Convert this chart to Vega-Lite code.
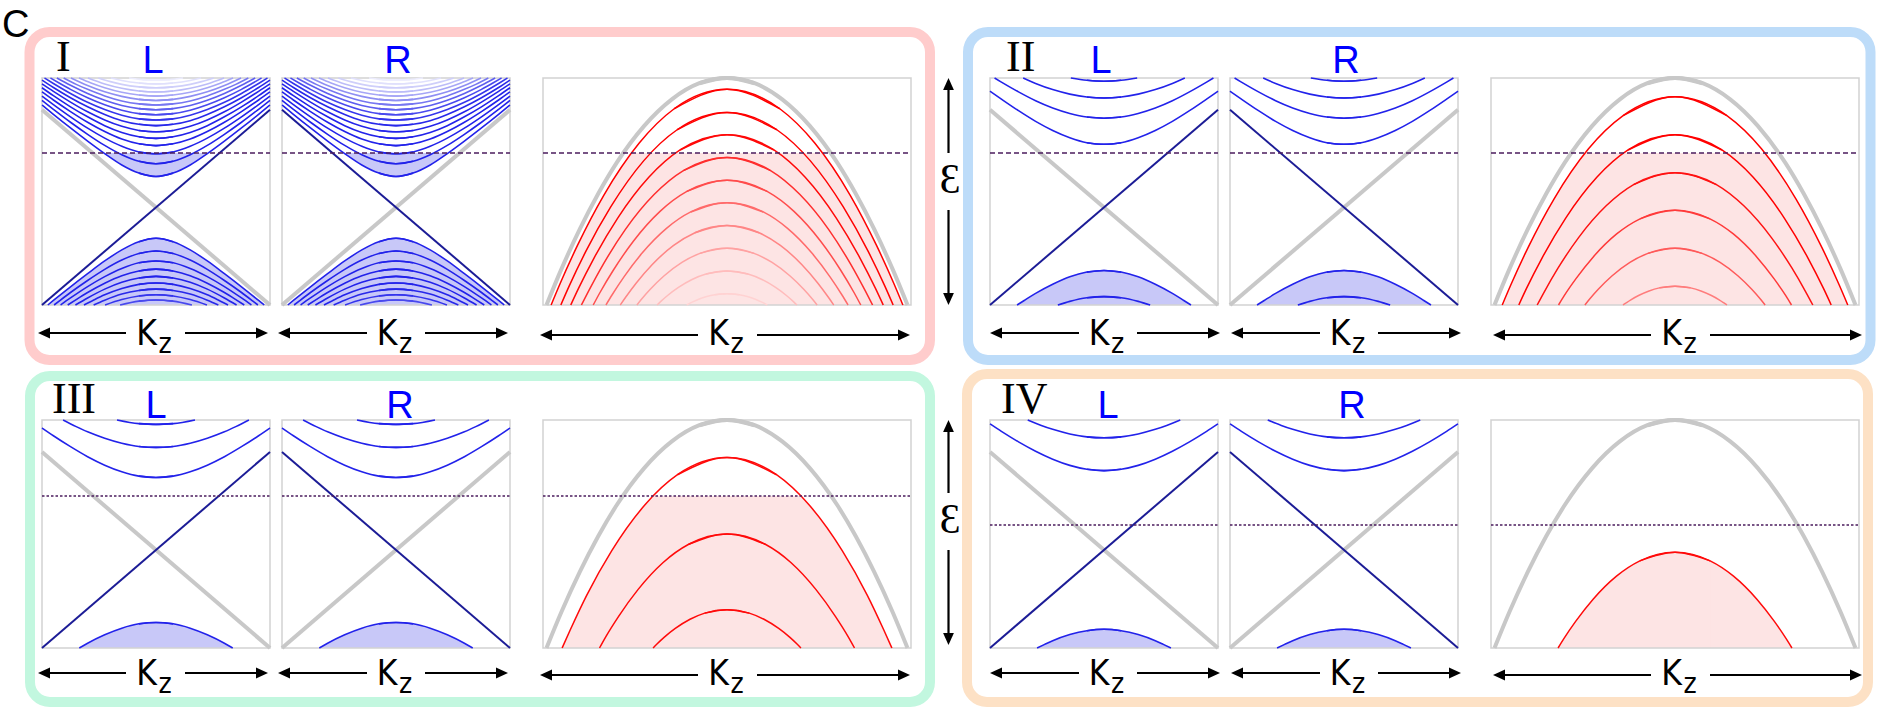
{
"$schema":"https://vega.github.io/schema/vega-lite/v6.json",
"width":1881,"height":715,"autosize":{"type":"none"},"padding":0,"background":"white",
"config":{"axis":{"disable":true},"legend":{"disable":true},"view":{"stroke":null}},
"resolve":{"scale":{"x":"independent","y":"independent","color":"independent","shape":"independent","strokeDash":"independent"}},
"datasets":{
"box":[{"q":"I","x":29.5,"x2":930,"y":32,"y2":360},{"q":"II","x":968,"x2":1870.5,"y":32,"y2":360},{"q":"III","x":30,"x2":930,"y":376,"y2":702},{"q":"IV","x":967,"x2":1868,"y":374,"y2":702}],
"fr":[{"x":42,"x2":270,"y":78,"y2":305},{"x":282,"x2":510,"y":78,"y2":305},{"x":543,"x2":911,"y":78,"y2":305},{"x":990,"x2":1218,"y":78,"y2":305},{"x":1230,"x2":1458,"y":78,"y2":305},{"x":1491,"x2":1859,"y":78,"y2":305},
{"x":42,"x2":270,"y":420,"y2":648},{"x":282,"x2":510,"y":420,"y2":648},{"x":543,"x2":911,"y":420,"y2":648},{"x":990,"x2":1218,"y":420,"y2":648},{"x":1230,"x2":1458,"y":420,"y2":648},{"x":1491,"x2":1859,"y":420,"y2":648}],
"ef":[{"x":42,"x2":270,"y":153,"r":"t"},{"x":282,"x2":510,"y":153,"r":"t"},{"x":543,"x2":911,"y":153,"r":"t"},{"x":990,"x2":1218,"y":153,"r":"t"},{"x":1230,"x2":1458,"y":153,"r":"t"},{"x":1491,"x2":1859,"y":153,"r":"t"},
{"x":42,"x2":270,"y":496,"r":"b"},{"x":282,"x2":510,"y":496,"r":"b"},{"x":543,"x2":911,"y":496,"r":"b"},{"x":990,"x2":1218,"y":525,"r":"b"},{"x":1230,"x2":1458,"y":525,"r":"b"},{"x":1491,"x2":1859,"y":525,"r":"b"}],
"sh":[{"x":44,"x2":126,"y":333,"y2":333},{"x":185,"x2":262,"y":333,"y2":333},{"x":284,"x2":367,"y":333,"y2":333},{"x":425,"x2":502,"y":333,"y2":333},{"x":546,"x2":698,"y":335,"y2":335},{"x":757,"x2":904,"y":335,"y2":335},
{"x":996,"x2":1079,"y":333,"y2":333},{"x":1137,"x2":1214,"y":333,"y2":333},{"x":1237,"x2":1320,"y":333,"y2":333},{"x":1378,"x2":1455,"y":333,"y2":333},{"x":1499,"x2":1651,"y":335,"y2":335},{"x":1710,"x2":1856,"y":335,"y2":335},
{"x":44,"x2":126,"y":673,"y2":673},{"x":185,"x2":262,"y":673,"y2":673},{"x":284,"x2":367,"y":673,"y2":673},{"x":425,"x2":502,"y":673,"y2":673},{"x":546,"x2":698,"y":675,"y2":675},{"x":757,"x2":904,"y":675,"y2":675},
{"x":996,"x2":1079,"y":673,"y2":673},{"x":1137,"x2":1214,"y":673,"y2":673},{"x":1237,"x2":1320,"y":673,"y2":673},{"x":1378,"x2":1455,"y":673,"y2":673},{"x":1499,"x2":1651,"y":675,"y2":675},{"x":1710,"x2":1856,"y":675,"y2":675},
{"x":948.5,"x2":948.5,"y":84,"y2":153},{"x":948.5,"x2":948.5,"y":210,"y2":299},{"x":948.5,"x2":948.5,"y":426,"y2":493},{"x":948.5,"x2":948.5,"y":550,"y2":639}],
"hd":[{"x":44,"y":333,"d":"l"},{"x":284,"y":333,"d":"l"},{"x":546,"y":335,"d":"l"},{"x":996,"y":333,"d":"l"},{"x":1237,"y":333,"d":"l"},{"x":1499,"y":335,"d":"l"},
{"x":44,"y":673,"d":"l"},{"x":284,"y":673,"d":"l"},{"x":546,"y":675,"d":"l"},{"x":996,"y":673,"d":"l"},{"x":1237,"y":673,"d":"l"},{"x":1499,"y":675,"d":"l"},
{"x":262,"y":333,"d":"r"},{"x":502,"y":333,"d":"r"},{"x":904,"y":335,"d":"r"},{"x":1214,"y":333,"d":"r"},{"x":1455,"y":333,"d":"r"},{"x":1856,"y":335,"d":"r"},
{"x":262,"y":673,"d":"r"},{"x":502,"y":673,"d":"r"},{"x":904,"y":675,"d":"r"},{"x":1214,"y":673,"d":"r"},{"x":1455,"y":673,"d":"r"},{"x":1856,"y":675,"d":"r"},
{"x":948.5,"y":84,"d":"u"},{"x":948.5,"y":426,"d":"u"},{"x":948.5,"y":299,"d":"d"},{"x":948.5,"y":639,"d":"d"}],
"tx":[{"g":"c","t":"C","x":2,"y":37},
{"g":"num","t":"I","x":56,"y":71},{"g":"num","t":"II","x":1006,"y":71},{"g":"num","t":"III","x":52,"y":413},{"g":"num","t":"IV","x":1001,"y":413},
{"g":"lr","t":"L","x":153,"y":73},{"g":"lr","t":"R","x":398,"y":73},{"g":"lr","t":"L","x":1101,"y":73},{"g":"lr","t":"R","x":1346,"y":73},
{"g":"lr","t":"L","x":156,"y":418},{"g":"lr","t":"R","x":400,"y":418},{"g":"lr","t":"L","x":1108,"y":418},{"g":"lr","t":"R","x":1352,"y":418},
{"g":"K","t":"K","x":157,"y":345},{"g":"K","t":"K","x":397.5,"y":345},{"g":"K","t":"K","x":729,"y":345},{"g":"K","t":"K","x":1109.5,"y":345},{"g":"K","t":"K","x":1350.5,"y":345},{"g":"K","t":"K","x":1682,"y":345},
{"g":"K","t":"K","x":157,"y":685},{"g":"K","t":"K","x":397.5,"y":685},{"g":"K","t":"K","x":729,"y":685},{"g":"K","t":"K","x":1109.5,"y":685},{"g":"K","t":"K","x":1350.5,"y":685},{"g":"K","t":"K","x":1682,"y":685},
{"g":"z","t":"z","x":158.5,"y":353},{"g":"z","t":"z","x":399,"y":353},{"g":"z","t":"z","x":730.5,"y":353},{"g":"z","t":"z","x":1111,"y":353},{"g":"z","t":"z","x":1352,"y":353},{"g":"z","t":"z","x":1683.5,"y":353},
{"g":"z","t":"z","x":158.5,"y":693},{"g":"z","t":"z","x":399,"y":693},{"g":"z","t":"z","x":730.5,"y":693},{"g":"z","t":"z","x":1111,"y":693},{"g":"z","t":"z","x":1352,"y":693},{"g":"z","t":"z","x":1683.5,"y":693},
{"g":"eps","t":"Ɛ","x":950,"y":193},{"g":"eps","t":"Ɛ","x":950,"y":533}],
"ch":[{"l":"b","k":-1,"e":0},{"l":"b","k":1,"e":0.86},{"l":"g","k":-1,"e":0.86},{"l":"g","k":1,"e":0}],
"pg":[{"k":-0.15,"e":0.977},{"k":0,"e":1},{"k":0.15,"e":0.977},{"k":0.3,"e":0.906},{"k":0.45,"e":0.789},{"k":0.6,"e":0.626},{"k":0.7,"e":0.49},{"k":0.8,"e":0.334},{"k":0.9,"e":0.158},{"k":0.981,"e":0}],
"fI":[{"k":-0.1,"e":0.573},{"k":0,"e":0.566},{"k":0.1,"e":0.573},{"k":0.2,"e":0.591},{"k":0.3,"e":0.617},{"k":0.4,"e":0.649},{"k":0.46,"e":0.67}],
"bI":[
{"b":"u","n":1,"k":-0.15,"e":0.581},{"b":"u","n":1,"k":0,"e":0.566},{"b":"u","n":1,"k":0.15,"e":0.581},{"b":"u","n":1,"k":0.3,"e":0.617},{"b":"u","n":1,"k":0.45,"e":0.667},{"b":"u","n":1,"k":0.6,"e":0.722},{"b":"u","n":1,"k":0.75,"e":0.78},{"b":"u","n":1,"k":0.9,"e":0.84},{"b":"u","n":1,"k":1,"e":0.881},
{"b":"u","n":2,"k":-0.15,"e":0.633},{"b":"u","n":2,"k":0,"e":0.622},{"b":"u","n":2,"k":0.15,"e":0.633},{"b":"u","n":2,"k":0.3,"e":0.662},{"b":"u","n":2,"k":0.45,"e":0.703},{"b":"u","n":2,"k":0.6,"e":0.752},{"b":"u","n":2,"k":0.75,"e":0.805},{"b":"u","n":2,"k":0.9,"e":0.862},{"b":"u","n":2,"k":1,"e":0.901},
{"b":"u","n":3,"k":-0.15,"e":0.674},{"b":"u","n":3,"k":0,"e":0.666},{"b":"u","n":3,"k":0.15,"e":0.674},{"b":"u","n":3,"k":0.3,"e":0.699},{"b":"u","n":3,"k":0.45,"e":0.735},{"b":"u","n":3,"k":0.6,"e":0.779},{"b":"u","n":3,"k":0.75,"e":0.829},{"b":"u","n":3,"k":0.9,"e":0.883},{"b":"u","n":3,"k":1,"e":0.92},
{"b":"u","n":4,"k":-0.15,"e":0.71},{"b":"u","n":4,"k":0,"e":0.702},{"b":"u","n":4,"k":0.15,"e":0.71},{"b":"u","n":4,"k":0.3,"e":0.731},{"b":"u","n":4,"k":0.45,"e":0.764},{"b":"u","n":4,"k":0.6,"e":0.805},{"b":"u","n":4,"k":0.75,"e":0.852},{"b":"u","n":4,"k":0.9,"e":0.903},{"b":"u","n":4,"k":1,"e":0.939},
{"b":"u","n":5,"k":-0.15,"e":0.741},{"b":"u","n":5,"k":0,"e":0.734},{"b":"u","n":5,"k":0.15,"e":0.741},{"b":"u","n":5,"k":0.3,"e":0.76},{"b":"u","n":5,"k":0.45,"e":0.79},{"b":"u","n":5,"k":0.6,"e":0.829},{"b":"u","n":5,"k":0.75,"e":0.873},{"b":"u","n":5,"k":0.9,"e":0.922},{"b":"u","n":5,"k":1,"e":0.957},
{"b":"u","n":6,"k":-0.15,"e":0.769},{"b":"u","n":6,"k":0,"e":0.763},{"b":"u","n":6,"k":0.15,"e":0.769},{"b":"u","n":6,"k":0.3,"e":0.787},{"b":"u","n":6,"k":0.45,"e":0.815},{"b":"u","n":6,"k":0.6,"e":0.851},{"b":"u","n":6,"k":0.75,"e":0.894},{"b":"u","n":6,"k":0.9,"e":0.941},{"b":"u","n":6,"k":1,"e":0.974},
{"b":"u","n":7,"k":-0.15,"e":0.796},{"b":"u","n":7,"k":0,"e":0.79},{"b":"u","n":7,"k":0.15,"e":0.796},{"b":"u","n":7,"k":0.3,"e":0.812},{"b":"u","n":7,"k":0.45,"e":0.839},{"b":"u","n":7,"k":0.6,"e":0.873},{"b":"u","n":7,"k":0.75,"e":0.913},{"b":"u","n":7,"k":0.9,"e":0.958},{"b":"u","n":7,"k":1,"e":0.991},
{"b":"u","n":8,"k":-0.15,"e":0.82},{"b":"u","n":8,"k":0,"e":0.815},{"b":"u","n":8,"k":0.15,"e":0.82},{"b":"u","n":8,"k":0.3,"e":0.836},{"b":"u","n":8,"k":0.45,"e":0.861},{"b":"u","n":8,"k":0.6,"e":0.893},{"b":"u","n":8,"k":0.75,"e":0.932},{"b":"u","n":8,"k":0.9,"e":0.976},{"b":"u","n":8,"k":0.978,"e":1},
{"b":"u","n":9,"k":-0.15,"e":0.843},{"b":"u","n":9,"k":0,"e":0.838},{"b":"u","n":9,"k":0.15,"e":0.843},{"b":"u","n":9,"k":0.3,"e":0.858},{"b":"u","n":9,"k":0.45,"e":0.882},{"b":"u","n":9,"k":0.6,"e":0.913},{"b":"u","n":9,"k":0.75,"e":0.95},{"b":"u","n":9,"k":0.85,"e":0.978},{"b":"u","n":9,"k":0.926,"e":1},
{"b":"u","n":10,"k":-0.15,"e":0.865},{"b":"u","n":10,"k":0,"e":0.86},{"b":"u","n":10,"k":0.15,"e":0.865},{"b":"u","n":10,"k":0.3,"e":0.879},{"b":"u","n":10,"k":0.45,"e":0.902},{"b":"u","n":10,"k":0.6,"e":0.932},{"b":"u","n":10,"k":0.75,"e":0.968},{"b":"u","n":10,"k":0.87,"e":1},
{"b":"u","n":11,"k":-0.15,"e":0.886},{"b":"u","n":11,"k":0,"e":0.881},{"b":"u","n":11,"k":0.15,"e":0.886},{"b":"u","n":11,"k":0.3,"e":0.899},{"b":"u","n":11,"k":0.45,"e":0.921},{"b":"u","n":11,"k":0.6,"e":0.95},{"b":"u","n":11,"k":0.7,"e":0.972},{"b":"u","n":11,"k":0.81,"e":1},
{"b":"u","n":12,"k":-0.15,"e":0.906},{"b":"u","n":12,"k":0,"e":0.901},{"b":"u","n":12,"k":0.15,"e":0.906},{"b":"u","n":12,"k":0.3,"e":0.919},{"b":"u","n":12,"k":0.45,"e":0.939},{"b":"u","n":12,"k":0.6,"e":0.967},{"b":"u","n":12,"k":0.746,"e":1},
{"b":"u","n":13,"k":-0.15,"e":0.925},{"b":"u","n":13,"k":0,"e":0.92},{"b":"u","n":13,"k":0.15,"e":0.925},{"b":"u","n":13,"k":0.3,"e":0.937},{"b":"u","n":13,"k":0.45,"e":0.957},{"b":"u","n":13,"k":0.57,"e":0.978},{"b":"u","n":13,"k":0.676,"e":1},
{"b":"u","n":14,"k":-0.15,"e":0.943},{"b":"u","n":14,"k":0,"e":0.939},{"b":"u","n":14,"k":0.15,"e":0.943},{"b":"u","n":14,"k":0.3,"e":0.955},{"b":"u","n":14,"k":0.45,"e":0.974},{"b":"u","n":14,"k":0.597,"e":1},
{"b":"u","n":15,"k":-0.15,"e":0.961},{"b":"u","n":15,"k":0,"e":0.957},{"b":"u","n":15,"k":0.15,"e":0.961},{"b":"u","n":15,"k":0.3,"e":0.972},{"b":"u","n":15,"k":0.4,"e":0.984},{"b":"u","n":15,"k":0.506,"e":1},
{"b":"u","n":16,"k":-0.15,"e":0.978},{"b":"u","n":16,"k":0,"e":0.974},{"b":"u","n":16,"k":0.15,"e":0.978},{"b":"u","n":16,"k":0.3,"e":0.989},{"b":"u","n":16,"k":0.395,"e":1},
{"b":"u","n":17,"k":-0.12,"e":0.993},{"b":"u","n":17,"k":0,"e":0.991},{"b":"u","n":17,"k":0.12,"e":0.993},{"b":"u","n":17,"k":0.237,"e":1},
{"b":"d","n":1,"k":-0.15,"e":0.279},{"b":"d","n":1,"k":0,"e":0.294},{"b":"d","n":1,"k":0.15,"e":0.279},{"b":"d","n":1,"k":0.3,"e":0.243},{"b":"d","n":1,"k":0.45,"e":0.194},{"b":"d","n":1,"k":0.6,"e":0.138},{"b":"d","n":1,"k":0.75,"e":0.08},{"b":"d","n":1,"k":0.9,"e":0.02},{"b":"d","n":1,"k":0.949,"e":0},
{"b":"d","n":2,"k":-0.15,"e":0.227},{"b":"d","n":2,"k":0,"e":0.238},{"b":"d","n":2,"k":0.15,"e":0.227},{"b":"d","n":2,"k":0.3,"e":0.198},{"b":"d","n":2,"k":0.45,"e":0.157},{"b":"d","n":2,"k":0.6,"e":0.108},{"b":"d","n":2,"k":0.75,"e":0.055},{"b":"d","n":2,"k":0.85,"e":0.017},{"b":"d","n":2,"k":0.894,"e":0},
{"b":"d","n":3,"k":-0.15,"e":0.186},{"b":"d","n":3,"k":0,"e":0.194},{"b":"d","n":3,"k":0.15,"e":0.186},{"b":"d","n":3,"k":0.3,"e":0.161},{"b":"d","n":3,"k":0.45,"e":0.125},{"b":"d","n":3,"k":0.6,"e":0.081},{"b":"d","n":3,"k":0.75,"e":0.031},{"b":"d","n":3,"k":0.837,"e":0},
{"b":"d","n":4,"k":-0.15,"e":0.15},{"b":"d","n":4,"k":0,"e":0.158},{"b":"d","n":4,"k":0.15,"e":0.15},{"b":"d","n":4,"k":0.3,"e":0.129},{"b":"d","n":4,"k":0.45,"e":0.096},{"b":"d","n":4,"k":0.6,"e":0.055},{"b":"d","n":4,"k":0.7,"e":0.024},{"b":"d","n":4,"k":0.7745,"e":0},
{"b":"d","n":5,"k":-0.15,"e":0.119},{"b":"d","n":5,"k":0,"e":0.126},{"b":"d","n":5,"k":0.15,"e":0.119},{"b":"d","n":5,"k":0.3,"e":0.1},{"b":"d","n":5,"k":0.45,"e":0.07},{"b":"d","n":5,"k":0.6,"e":0.031},{"b":"d","n":5,"k":0.707,"e":0},
{"b":"d","n":6,"k":-0.15,"e":0.091},{"b":"d","n":6,"k":0,"e":0.097},{"b":"d","n":6,"k":0.15,"e":0.091},{"b":"d","n":6,"k":0.3,"e":0.073},{"b":"d","n":6,"k":0.45,"e":0.045},{"b":"d","n":6,"k":0.55,"e":0.021},{"b":"d","n":6,"k":0.632,"e":0},
{"b":"d","n":7,"k":-0.15,"e":0.064},{"b":"d","n":7,"k":0,"e":0.07},{"b":"d","n":7,"k":0.15,"e":0.064},{"b":"d","n":7,"k":0.3,"e":0.048},{"b":"d","n":7,"k":0.45,"e":0.021},{"b":"d","n":7,"k":0.547,"e":0},
{"b":"d","n":8,"k":-0.15,"e":0.04},{"b":"d","n":8,"k":0,"e":0.045},{"b":"d","n":8,"k":0.15,"e":0.04},{"b":"d","n":8,"k":0.3,"e":0.024},{"b":"d","n":8,"k":0.447,"e":0},
{"b":"d","n":9,"k":-0.15,"e":0.017},{"b":"d","n":9,"k":0,"e":0.022},{"b":"d","n":9,"k":0.15,"e":0.017},{"b":"d","n":9,"k":0.315,"e":0}],
"bII":[
{"b":"u","n":1,"k":-0.15,"e":0.715},{"b":"u","n":1,"k":0,"e":0.708},{"b":"u","n":1,"k":0.15,"e":0.715},{"b":"u","n":1,"k":0.3,"e":0.737},{"b":"u","n":1,"k":0.45,"e":0.769},{"b":"u","n":1,"k":0.6,"e":0.809},{"b":"u","n":1,"k":0.75,"e":0.856},{"b":"u","n":1,"k":0.9,"e":0.907},{"b":"u","n":1,"k":1,"e":0.942},
{"b":"u","n":2,"k":-0.15,"e":0.828},{"b":"u","n":2,"k":0,"e":0.823},{"b":"u","n":2,"k":0.15,"e":0.828},{"b":"u","n":2,"k":0.3,"e":0.844},{"b":"u","n":2,"k":0.45,"e":0.868},{"b":"u","n":2,"k":0.6,"e":0.9},{"b":"u","n":2,"k":0.75,"e":0.939},{"b":"u","n":2,"k":0.9,"e":0.982},{"b":"u","n":2,"k":0.96,"e":1},
{"b":"u","n":3,"k":-0.15,"e":0.916},{"b":"u","n":3,"k":0,"e":0.912},{"b":"u","n":3,"k":0.15,"e":0.916},{"b":"u","n":3,"k":0.3,"e":0.929},{"b":"u","n":3,"k":0.45,"e":0.949},{"b":"u","n":3,"k":0.6,"e":0.976},{"b":"u","n":3,"k":0.709,"e":1},
{"b":"u","n":4,"k":-0.15,"e":0.99},{"b":"u","n":4,"k":0,"e":0.986},{"b":"u","n":4,"k":0.15,"e":0.99},{"b":"u","n":4,"k":0.291,"e":1},
{"b":"d","n":1,"k":-0.15,"e":0.145},{"b":"d","n":1,"k":0,"e":0.152},{"b":"d","n":1,"k":0.15,"e":0.145},{"b":"d","n":1,"k":0.3,"e":0.124},{"b":"d","n":1,"k":0.45,"e":0.091},{"b":"d","n":1,"k":0.6,"e":0.051},{"b":"d","n":1,"k":0.7,"e":0.02},{"b":"d","n":1,"k":0.763,"e":0},
{"b":"d","n":2,"k":-0.15,"e":0.032},{"b":"d","n":2,"k":0,"e":0.037},{"b":"d","n":2,"k":0.15,"e":0.032},{"b":"d","n":2,"k":0.3,"e":0.016},{"b":"d","n":2,"k":0.405,"e":0}],
"bIII":[
{"b":"u","n":1,"k":-0.15,"e":0.754},{"b":"u","n":1,"k":0,"e":0.748},{"b":"u","n":1,"k":0.15,"e":0.754},{"b":"u","n":1,"k":0.3,"e":0.773},{"b":"u","n":1,"k":0.45,"e":0.802},{"b":"u","n":1,"k":0.6,"e":0.839},{"b":"u","n":1,"k":0.75,"e":0.883},{"b":"u","n":1,"k":0.9,"e":0.931},{"b":"u","n":1,"k":1,"e":0.965},
{"b":"u","n":2,"k":-0.15,"e":0.884},{"b":"u","n":2,"k":0,"e":0.88},{"b":"u","n":2,"k":0.15,"e":0.884},{"b":"u","n":2,"k":0.3,"e":0.898},{"b":"u","n":2,"k":0.45,"e":0.92},{"b":"u","n":2,"k":0.6,"e":0.948},{"b":"u","n":2,"k":0.7,"e":0.971},{"b":"u","n":2,"k":0.815,"e":1},
{"b":"u","n":3,"k":-0.15,"e":0.984},{"b":"u","n":3,"k":0,"e":0.981},{"b":"u","n":3,"k":0.15,"e":0.984},{"b":"u","n":3,"k":0.342,"e":1},
{"b":"d","n":1,"k":-0.15,"e":0.106},{"b":"d","n":1,"k":0,"e":0.112},{"b":"d","n":1,"k":0.15,"e":0.106},{"b":"d","n":1,"k":0.3,"e":0.087},{"b":"d","n":1,"k":0.45,"e":0.058},{"b":"d","n":1,"k":0.6,"e":0.021},{"b":"d","n":1,"k":0.673,"e":0}],
"bIV":[
{"b":"u","n":1,"k":-0.15,"e":0.784},{"b":"u","n":1,"k":0,"e":0.778},{"b":"u","n":1,"k":0.15,"e":0.784},{"b":"u","n":1,"k":0.3,"e":0.801},{"b":"u","n":1,"k":0.45,"e":0.828},{"b":"u","n":1,"k":0.6,"e":0.863},{"b":"u","n":1,"k":0.75,"e":0.904},{"b":"u","n":1,"k":0.9,"e":0.95},{"b":"u","n":1,"k":1,"e":0.983},
{"b":"u","n":2,"k":-0.15,"e":0.926},{"b":"u","n":2,"k":0,"e":0.922},{"b":"u","n":2,"k":0.15,"e":0.926},{"b":"u","n":2,"k":0.3,"e":0.939},{"b":"u","n":2,"k":0.45,"e":0.959},{"b":"u","n":2,"k":0.55,"e":0.976},{"b":"u","n":2,"k":0.669,"e":1},
{"b":"d","n":1,"k":-0.15,"e":0.076},{"b":"d","n":1,"k":0,"e":0.082},{"b":"d","n":1,"k":0.15,"e":0.076},{"b":"d","n":1,"k":0.3,"e":0.059},{"b":"d","n":1,"k":0.45,"e":0.032},{"b":"d","n":1,"k":0.52,"e":0.016},{"b":"d","n":1,"k":0.587,"e":0}],
"pI":[
{"n":1,"k":-0.287,"e":0.8645},{"n":1,"k":0,"e":0.95},{"n":1,"k":0.287,"e":0.8645},{"n":1,"k":0.478,"e":0.7125},{"n":1,"k":0.669,"e":0.4845},{"n":1,"k":0.812,"e":0.2636},{"n":1,"k":0.908,"e":0.0926},{"n":1,"k":0.956,"e":0},
{"n":2,"k":-0.271,"e":0.772},{"n":2,"k":0,"e":0.848},{"n":2,"k":0.271,"e":0.772},{"n":2,"k":0.452,"e":0.636},{"n":2,"k":0.632,"e":0.432},{"n":2,"k":0.768,"e":0.235},{"n":2,"k":0.858,"e":0.083},{"n":2,"k":0.903,"e":0},
{"n":3,"k":-0.255,"e":0.683},{"n":3,"k":0,"e":0.75},{"n":3,"k":0.255,"e":0.683},{"n":3,"k":0.425,"e":0.5625},{"n":3,"k":0.594,"e":0.383},{"n":3,"k":0.722,"e":0.208},{"n":3,"k":0.807,"e":0.073},{"n":3,"k":0.849,"e":0},
{"n":4,"k":-0.237,"e":0.592},{"n":4,"k":0,"e":0.65},{"n":4,"k":0.237,"e":0.592},{"n":4,"k":0.395,"e":0.4875},{"n":4,"k":0.553,"e":0.332},{"n":4,"k":0.672,"e":0.18},{"n":4,"k":0.751,"e":0.063},{"n":4,"k":0.791,"e":0},
{"n":5,"k":-0.218,"e":0.5005},{"n":5,"k":0,"e":0.55},{"n":5,"k":0.218,"e":0.5005},{"n":5,"k":0.364,"e":0.4125},{"n":5,"k":0.509,"e":0.281},{"n":5,"k":0.618,"e":0.153},{"n":5,"k":0.691,"e":0.054},{"n":5,"k":0.727,"e":0},
{"n":6,"k":-0.197,"e":0.41},{"n":6,"k":0,"e":0.45},{"n":6,"k":0.197,"e":0.41},{"n":6,"k":0.329,"e":0.3375},{"n":6,"k":0.46,"e":0.23},{"n":6,"k":0.559,"e":0.125},{"n":6,"k":0.625,"e":0.044},{"n":6,"k":0.658,"e":0},
{"n":7,"k":-0.174,"e":0.3185},{"n":7,"k":0,"e":0.35},{"n":7,"k":0.174,"e":0.3185},{"n":7,"k":0.29,"e":0.2625},{"n":7,"k":0.406,"e":0.1785},{"n":7,"k":0.493,"e":0.097},{"n":7,"k":0.551,"e":0.034},{"n":7,"k":0.58,"e":0},
{"n":8,"k":-0.147,"e":0.2275},{"n":8,"k":0,"e":0.25},{"n":8,"k":0.147,"e":0.2275},{"n":8,"k":0.245,"e":0.1875},{"n":8,"k":0.343,"e":0.1275},{"n":8,"k":0.417,"e":0.069},{"n":8,"k":0.466,"e":0.024},{"n":8,"k":0.49,"e":0},
{"n":9,"k":-0.114,"e":0.1365},{"n":9,"k":0,"e":0.15},{"n":9,"k":0.114,"e":0.1365},{"n":9,"k":0.19,"e":0.1125},{"n":9,"k":0.266,"e":0.0765},{"n":9,"k":0.323,"e":0.042},{"n":9,"k":0.361,"e":0.015},{"n":9,"k":0.38,"e":0},
{"n":10,"k":-0.066,"e":0.0455},{"n":10,"k":0,"e":0.05},{"n":10,"k":0.066,"e":0.0455},{"n":10,"k":0.11,"e":0.0375},{"n":10,"k":0.154,"e":0.0255},{"n":10,"k":0.186,"e":0.014},{"n":10,"k":0.208,"e":0.005},{"n":10,"k":0.219,"e":0}],
"pII":[
{"n":1,"k":-0.282,"e":0.834},{"n":1,"k":0,"e":0.917},{"n":1,"k":0.282,"e":0.834},{"n":1,"k":0.47,"e":0.688},{"n":1,"k":0.657,"e":0.468},{"n":1,"k":0.798,"e":0.254},{"n":1,"k":0.892,"e":0.089},{"n":1,"k":0.939,"e":0},
{"n":2,"k":-0.255,"e":0.683},{"n":2,"k":0,"e":0.75},{"n":2,"k":0.255,"e":0.683},{"n":2,"k":0.425,"e":0.5625},{"n":2,"k":0.594,"e":0.383},{"n":2,"k":0.722,"e":0.208},{"n":2,"k":0.807,"e":0.073},{"n":2,"k":0.849,"e":0},
{"n":3,"k":-0.225,"e":0.5305},{"n":3,"k":0,"e":0.583},{"n":3,"k":0.225,"e":0.5305},{"n":3,"k":0.374,"e":0.437},{"n":3,"k":0.524,"e":0.297},{"n":3,"k":0.636,"e":0.162},{"n":3,"k":0.711,"e":0.057},{"n":3,"k":0.749,"e":0},
{"n":4,"k":-0.19,"e":0.3795},{"n":4,"k":0,"e":0.417},{"n":4,"k":0.19,"e":0.3795},{"n":4,"k":0.317,"e":0.313},{"n":4,"k":0.443,"e":0.213},{"n":4,"k":0.538,"e":0.116},{"n":4,"k":0.602,"e":0.041},{"n":4,"k":0.633,"e":0},
{"n":5,"k":-0.147,"e":0.2275},{"n":5,"k":0,"e":0.25},{"n":5,"k":0.147,"e":0.2275},{"n":5,"k":0.245,"e":0.1875},{"n":5,"k":0.343,"e":0.1275},{"n":5,"k":0.417,"e":0.069},{"n":5,"k":0.466,"e":0.024},{"n":5,"k":0.49,"e":0},
{"n":6,"k":-0.085,"e":0.0755},{"n":6,"k":0,"e":0.083},{"n":6,"k":0.085,"e":0.0755},{"n":6,"k":0.141,"e":0.062},{"n":6,"k":0.198,"e":0.042},{"n":6,"k":0.24,"e":0.023},{"n":6,"k":0.268,"e":0.008},{"n":6,"k":0.2825,"e":0}],
"pIII":[
{"n":1,"k":-0.269,"e":0.76},{"n":1,"k":0,"e":0.835},{"n":1,"k":0.269,"e":0.76},{"n":1,"k":0.448,"e":0.626},{"n":1,"k":0.627,"e":0.426},{"n":1,"k":0.762,"e":0.232},{"n":1,"k":0.851,"e":0.081},{"n":1,"k":0.896,"e":0},
{"n":2,"k":-0.208,"e":0.455},{"n":2,"k":0,"e":0.5},{"n":2,"k":0.208,"e":0.455},{"n":2,"k":0.347,"e":0.375},{"n":2,"k":0.485,"e":0.255},{"n":2,"k":0.589,"e":0.139},{"n":2,"k":0.659,"e":0.049},{"n":2,"k":0.693,"e":0},
{"n":3,"k":-0.121,"e":0.153},{"n":3,"k":0,"e":0.168},{"n":3,"k":0.121,"e":0.153},{"n":3,"k":0.201,"e":0.126},{"n":3,"k":0.281,"e":0.0857},{"n":3,"k":0.342,"e":0.0466},{"n":3,"k":0.382,"e":0.0164},{"n":3,"k":0.402,"e":0}],
"pIV":[
{"n":1,"k":-0.191,"e":0.382},{"n":1,"k":0,"e":0.42},{"n":1,"k":0.191,"e":0.382},{"n":1,"k":0.318,"e":0.315},{"n":1,"k":0.445,"e":0.214},{"n":1,"k":0.54,"e":0.1166},{"n":1,"k":0.604,"e":0.041},{"n":1,"k":0.6355,"e":0}],
"rfI":[{"k":-0.1,"e":0.67},{"k":0.519,"e":0.67},{"k":0.55,"e":0.635},{"k":0.6,"e":0.576},{"k":0.65,"e":0.511},{"k":0.7,"e":0.44},{"k":0.75,"e":0.365},{"k":0.8,"e":0.284},{"k":0.85,"e":0.199},{"k":0.9,"e":0.108},{"k":0.93,"e":0.05},{"k":0.956,"e":0}],
"rfII":[{"k":-0.1,"e":0.67},{"k":0.487,"e":0.67},{"k":0.52,"e":0.636},{"k":0.55,"e":0.602},{"k":0.6,"e":0.543},{"k":0.65,"e":0.478},{"k":0.7,"e":0.407},{"k":0.75,"e":0.332},{"k":0.8,"e":0.251},{"k":0.85,"e":0.166},{"k":0.9,"e":0.075},{"k":0.939,"e":0}],
"rfIII":[{"k":-0.1,"e":0.667},{"k":0.402,"e":0.667},{"k":0.45,"e":0.624},{"k":0.5,"e":0.575},{"k":0.55,"e":0.52},{"k":0.6,"e":0.461},{"k":0.65,"e":0.396},{"k":0.7,"e":0.325},{"k":0.75,"e":0.25},{"k":0.8,"e":0.169},{"k":0.85,"e":0.084},{"k":0.896,"e":0}]
},
"layer":[
{"data":{"name":"box"},"mark":{"type":"rect","filled":false,"strokeWidth":10,"cornerRadius":20},"encoding":{"x":{"field":"x","type":"quantitative","scale":{"domain":[0,1881],"range":[0,1881],"nice":false,"zero":false}},"x2":{"field":"x2"},"y":{"field":"y","type":"quantitative","scale":{"domain":[0,715],"range":[0,715],"nice":false,"zero":false}},"y2":{"field":"y2"},"color":{"field":"q","type":"nominal","scale":{"domain":["I","II","III","IV"],"range":["#ffcccc","#bddcf9","#c2f7df","#fde1c5"]}}}},

{"data":{"name":"bI"},"transform":[{"filter":"datum.b=='d'&&datum.n==1"}],"mark":{"type":"area","interpolate":"monotone","color":"#c8c8f8"},"encoding":{"x":{"field":"k","type":"quantitative","scale":{"domain":[-1,1],"range":[42,270]}},"y":{"field":"e","type":"quantitative","scale":{"domain":[0,1],"range":[305,78]}},"y2":{"datum":0}}},
{"data":{"name":"bI"},"transform":[{"filter":"datum.b=='d'&&datum.n==1"}],"mark":{"type":"area","interpolate":"monotone","color":"#c8c8f8"},"encoding":{"x":{"field":"k","type":"quantitative","scale":{"domain":[-1,1],"range":[270,42]}},"y":{"field":"e","type":"quantitative","scale":{"domain":[0,1],"range":[305,78]}},"y2":{"datum":0}}},
{"data":{"name":"bI"},"transform":[{"filter":"datum.b=='d'&&datum.n==1"}],"mark":{"type":"area","interpolate":"monotone","color":"#c8c8f8"},"encoding":{"x":{"field":"k","type":"quantitative","scale":{"domain":[-1,1],"range":[282,510]}},"y":{"field":"e","type":"quantitative","scale":{"domain":[0,1],"range":[305,78]}},"y2":{"datum":0}}},
{"data":{"name":"bI"},"transform":[{"filter":"datum.b=='d'&&datum.n==1"}],"mark":{"type":"area","interpolate":"monotone","color":"#c8c8f8"},"encoding":{"x":{"field":"k","type":"quantitative","scale":{"domain":[-1,1],"range":[510,282]}},"y":{"field":"e","type":"quantitative","scale":{"domain":[0,1],"range":[305,78]}},"y2":{"datum":0}}},
{"data":{"name":"fI"},"mark":{"type":"area","interpolate":"monotone","color":"#c8c8f8"},"encoding":{"x":{"field":"k","type":"quantitative","scale":{"domain":[-1,1],"range":[42,270]}},"y":{"field":"e","type":"quantitative","scale":{"domain":[0,1],"range":[305,78]}},"y2":{"datum":0.67}}},
{"data":{"name":"fI"},"mark":{"type":"area","interpolate":"monotone","color":"#c8c8f8"},"encoding":{"x":{"field":"k","type":"quantitative","scale":{"domain":[-1,1],"range":[270,42]}},"y":{"field":"e","type":"quantitative","scale":{"domain":[0,1],"range":[305,78]}},"y2":{"datum":0.67}}},
{"data":{"name":"fI"},"mark":{"type":"area","interpolate":"monotone","color":"#c8c8f8"},"encoding":{"x":{"field":"k","type":"quantitative","scale":{"domain":[-1,1],"range":[282,510]}},"y":{"field":"e","type":"quantitative","scale":{"domain":[0,1],"range":[305,78]}},"y2":{"datum":0.67}}},
{"data":{"name":"fI"},"mark":{"type":"area","interpolate":"monotone","color":"#c8c8f8"},"encoding":{"x":{"field":"k","type":"quantitative","scale":{"domain":[-1,1],"range":[510,282]}},"y":{"field":"e","type":"quantitative","scale":{"domain":[0,1],"range":[305,78]}},"y2":{"datum":0.67}}},
{"data":{"name":"rfI"},"mark":{"type":"area","color":"#fde4e4"},"encoding":{"x":{"field":"k","type":"quantitative","scale":{"domain":[-1,1],"range":[543,911]}},"y":{"field":"e","type":"quantitative","scale":{"domain":[0,1],"range":[305,78]}},"y2":{"datum":0}}},
{"data":{"name":"rfI"},"mark":{"type":"area","color":"#fde4e4"},"encoding":{"x":{"field":"k","type":"quantitative","scale":{"domain":[-1,1],"range":[911,543]}},"y":{"field":"e","type":"quantitative","scale":{"domain":[0,1],"range":[305,78]}},"y2":{"datum":0}}},

{"data":{"name":"bII"},"transform":[{"filter":"datum.b=='d'&&datum.n==1"}],"mark":{"type":"area","interpolate":"monotone","color":"#c8c8f8"},"encoding":{"x":{"field":"k","type":"quantitative","scale":{"domain":[-1,1],"range":[990,1218]}},"y":{"field":"e","type":"quantitative","scale":{"domain":[0,1],"range":[305,78]}},"y2":{"datum":0}}},
{"data":{"name":"bII"},"transform":[{"filter":"datum.b=='d'&&datum.n==1"}],"mark":{"type":"area","interpolate":"monotone","color":"#c8c8f8"},"encoding":{"x":{"field":"k","type":"quantitative","scale":{"domain":[-1,1],"range":[1218,990]}},"y":{"field":"e","type":"quantitative","scale":{"domain":[0,1],"range":[305,78]}},"y2":{"datum":0}}},
{"data":{"name":"bII"},"transform":[{"filter":"datum.b=='d'&&datum.n==1"}],"mark":{"type":"area","interpolate":"monotone","color":"#c8c8f8"},"encoding":{"x":{"field":"k","type":"quantitative","scale":{"domain":[-1,1],"range":[1230,1458]}},"y":{"field":"e","type":"quantitative","scale":{"domain":[0,1],"range":[305,78]}},"y2":{"datum":0}}},
{"data":{"name":"bII"},"transform":[{"filter":"datum.b=='d'&&datum.n==1"}],"mark":{"type":"area","interpolate":"monotone","color":"#c8c8f8"},"encoding":{"x":{"field":"k","type":"quantitative","scale":{"domain":[-1,1],"range":[1458,1230]}},"y":{"field":"e","type":"quantitative","scale":{"domain":[0,1],"range":[305,78]}},"y2":{"datum":0}}},
{"data":{"name":"rfII"},"mark":{"type":"area","color":"#fde4e4"},"encoding":{"x":{"field":"k","type":"quantitative","scale":{"domain":[-1,1],"range":[1491,1859]}},"y":{"field":"e","type":"quantitative","scale":{"domain":[0,1],"range":[305,78]}},"y2":{"datum":0}}},
{"data":{"name":"rfII"},"mark":{"type":"area","color":"#fde4e4"},"encoding":{"x":{"field":"k","type":"quantitative","scale":{"domain":[-1,1],"range":[1859,1491]}},"y":{"field":"e","type":"quantitative","scale":{"domain":[0,1],"range":[305,78]}},"y2":{"datum":0}}},

{"data":{"name":"bIII"},"transform":[{"filter":"datum.b=='d'&&datum.n==1"}],"mark":{"type":"area","interpolate":"monotone","color":"#c8c8f8"},"encoding":{"x":{"field":"k","type":"quantitative","scale":{"domain":[-1,1],"range":[42,270]}},"y":{"field":"e","type":"quantitative","scale":{"domain":[0,1],"range":[648,420]}},"y2":{"datum":0}}},
{"data":{"name":"bIII"},"transform":[{"filter":"datum.b=='d'&&datum.n==1"}],"mark":{"type":"area","interpolate":"monotone","color":"#c8c8f8"},"encoding":{"x":{"field":"k","type":"quantitative","scale":{"domain":[-1,1],"range":[270,42]}},"y":{"field":"e","type":"quantitative","scale":{"domain":[0,1],"range":[648,420]}},"y2":{"datum":0}}},
{"data":{"name":"bIII"},"transform":[{"filter":"datum.b=='d'&&datum.n==1"}],"mark":{"type":"area","interpolate":"monotone","color":"#c8c8f8"},"encoding":{"x":{"field":"k","type":"quantitative","scale":{"domain":[-1,1],"range":[282,510]}},"y":{"field":"e","type":"quantitative","scale":{"domain":[0,1],"range":[648,420]}},"y2":{"datum":0}}},
{"data":{"name":"bIII"},"transform":[{"filter":"datum.b=='d'&&datum.n==1"}],"mark":{"type":"area","interpolate":"monotone","color":"#c8c8f8"},"encoding":{"x":{"field":"k","type":"quantitative","scale":{"domain":[-1,1],"range":[510,282]}},"y":{"field":"e","type":"quantitative","scale":{"domain":[0,1],"range":[648,420]}},"y2":{"datum":0}}},
{"data":{"name":"rfIII"},"mark":{"type":"area","color":"#fde4e4"},"encoding":{"x":{"field":"k","type":"quantitative","scale":{"domain":[-1,1],"range":[543,911]}},"y":{"field":"e","type":"quantitative","scale":{"domain":[0,1],"range":[648,420]}},"y2":{"datum":0}}},
{"data":{"name":"rfIII"},"mark":{"type":"area","color":"#fde4e4"},"encoding":{"x":{"field":"k","type":"quantitative","scale":{"domain":[-1,1],"range":[911,543]}},"y":{"field":"e","type":"quantitative","scale":{"domain":[0,1],"range":[648,420]}},"y2":{"datum":0}}},

{"data":{"name":"bIV"},"transform":[{"filter":"datum.b=='d'&&datum.n==1"}],"mark":{"type":"area","interpolate":"monotone","color":"#c8c8f8"},"encoding":{"x":{"field":"k","type":"quantitative","scale":{"domain":[-1,1],"range":[990,1218]}},"y":{"field":"e","type":"quantitative","scale":{"domain":[0,1],"range":[648,420]}},"y2":{"datum":0}}},
{"data":{"name":"bIV"},"transform":[{"filter":"datum.b=='d'&&datum.n==1"}],"mark":{"type":"area","interpolate":"monotone","color":"#c8c8f8"},"encoding":{"x":{"field":"k","type":"quantitative","scale":{"domain":[-1,1],"range":[1218,990]}},"y":{"field":"e","type":"quantitative","scale":{"domain":[0,1],"range":[648,420]}},"y2":{"datum":0}}},
{"data":{"name":"bIV"},"transform":[{"filter":"datum.b=='d'&&datum.n==1"}],"mark":{"type":"area","interpolate":"monotone","color":"#c8c8f8"},"encoding":{"x":{"field":"k","type":"quantitative","scale":{"domain":[-1,1],"range":[1230,1458]}},"y":{"field":"e","type":"quantitative","scale":{"domain":[0,1],"range":[648,420]}},"y2":{"datum":0}}},
{"data":{"name":"bIV"},"transform":[{"filter":"datum.b=='d'&&datum.n==1"}],"mark":{"type":"area","interpolate":"monotone","color":"#c8c8f8"},"encoding":{"x":{"field":"k","type":"quantitative","scale":{"domain":[-1,1],"range":[1458,1230]}},"y":{"field":"e","type":"quantitative","scale":{"domain":[0,1],"range":[648,420]}},"y2":{"datum":0}}},
{"data":{"name":"pIV"},"mark":{"type":"area","interpolate":"monotone","color":"#fde4e4"},"encoding":{"x":{"field":"k","type":"quantitative","scale":{"domain":[-1,1],"range":[1491,1859]}},"y":{"field":"e","type":"quantitative","scale":{"domain":[0,1],"range":[648,420]}},"y2":{"datum":0}}},
{"data":{"name":"pIV"},"mark":{"type":"area","interpolate":"monotone","color":"#fde4e4"},"encoding":{"x":{"field":"k","type":"quantitative","scale":{"domain":[-1,1],"range":[1859,1491]}},"y":{"field":"e","type":"quantitative","scale":{"domain":[0,1],"range":[648,420]}},"y2":{"datum":0}}},

{"data":{"name":"fr"},"mark":{"type":"rect","filled":false,"stroke":"#d2d2d2","strokeWidth":1.5},"encoding":{"x":{"field":"x","type":"quantitative","scale":{"domain":[0,1881],"range":[0,1881],"nice":false,"zero":false}},"x2":{"field":"x2"},"y":{"field":"y","type":"quantitative","scale":{"domain":[0,715],"range":[0,715],"nice":false,"zero":false}},"y2":{"field":"y2"}}},

{"data":{"name":"ch"},"transform":[{"filter":"datum.l=='g'"}],"mark":{"type":"line","color":"#c8c8c8","strokeWidth":4},"encoding":{"x":{"field":"k","type":"quantitative","scale":{"domain":[-1,1],"range":[42,270]}},"y":{"field":"e","type":"quantitative","scale":{"domain":[0,1],"range":[305,78]}}}},
{"data":{"name":"ch"},"transform":[{"filter":"datum.l=='g'"}],"mark":{"type":"line","color":"#c8c8c8","strokeWidth":4},"encoding":{"x":{"field":"k","type":"quantitative","scale":{"domain":[-1,1],"range":[510,282]}},"y":{"field":"e","type":"quantitative","scale":{"domain":[0,1],"range":[305,78]}}}},
{"data":{"name":"ch"},"transform":[{"filter":"datum.l=='g'"}],"mark":{"type":"line","color":"#c8c8c8","strokeWidth":4},"encoding":{"x":{"field":"k","type":"quantitative","scale":{"domain":[-1,1],"range":[990,1218]}},"y":{"field":"e","type":"quantitative","scale":{"domain":[0,1],"range":[305,78]}}}},
{"data":{"name":"ch"},"transform":[{"filter":"datum.l=='g'"}],"mark":{"type":"line","color":"#c8c8c8","strokeWidth":4},"encoding":{"x":{"field":"k","type":"quantitative","scale":{"domain":[-1,1],"range":[1458,1230]}},"y":{"field":"e","type":"quantitative","scale":{"domain":[0,1],"range":[305,78]}}}},
{"data":{"name":"ch"},"transform":[{"filter":"datum.l=='g'"}],"mark":{"type":"line","color":"#c8c8c8","strokeWidth":4},"encoding":{"x":{"field":"k","type":"quantitative","scale":{"domain":[-1,1],"range":[42,270]}},"y":{"field":"e","type":"quantitative","scale":{"domain":[0,1],"range":[648,420]}}}},
{"data":{"name":"ch"},"transform":[{"filter":"datum.l=='g'"}],"mark":{"type":"line","color":"#c8c8c8","strokeWidth":4},"encoding":{"x":{"field":"k","type":"quantitative","scale":{"domain":[-1,1],"range":[510,282]}},"y":{"field":"e","type":"quantitative","scale":{"domain":[0,1],"range":[648,420]}}}},
{"data":{"name":"ch"},"transform":[{"filter":"datum.l=='g'"}],"mark":{"type":"line","color":"#c8c8c8","strokeWidth":4},"encoding":{"x":{"field":"k","type":"quantitative","scale":{"domain":[-1,1],"range":[990,1218]}},"y":{"field":"e","type":"quantitative","scale":{"domain":[0,1],"range":[648,420]}}}},
{"data":{"name":"ch"},"transform":[{"filter":"datum.l=='g'"}],"mark":{"type":"line","color":"#c8c8c8","strokeWidth":4},"encoding":{"x":{"field":"k","type":"quantitative","scale":{"domain":[-1,1],"range":[1458,1230]}},"y":{"field":"e","type":"quantitative","scale":{"domain":[0,1],"range":[648,420]}}}},
{"data":{"name":"pg"},"mark":{"type":"line","interpolate":"monotone","color":"#c8c8c8","strokeWidth":4},"encoding":{"x":{"field":"k","type":"quantitative","scale":{"domain":[-1,1],"range":[543,911]}},"y":{"field":"e","type":"quantitative","scale":{"domain":[0,1],"range":[305,78]}}}},
{"data":{"name":"pg"},"mark":{"type":"line","interpolate":"monotone","color":"#c8c8c8","strokeWidth":4},"encoding":{"x":{"field":"k","type":"quantitative","scale":{"domain":[-1,1],"range":[911,543]}},"y":{"field":"e","type":"quantitative","scale":{"domain":[0,1],"range":[305,78]}}}},
{"data":{"name":"pg"},"mark":{"type":"line","interpolate":"monotone","color":"#c8c8c8","strokeWidth":4},"encoding":{"x":{"field":"k","type":"quantitative","scale":{"domain":[-1,1],"range":[1491,1859]}},"y":{"field":"e","type":"quantitative","scale":{"domain":[0,1],"range":[305,78]}}}},
{"data":{"name":"pg"},"mark":{"type":"line","interpolate":"monotone","color":"#c8c8c8","strokeWidth":4},"encoding":{"x":{"field":"k","type":"quantitative","scale":{"domain":[-1,1],"range":[1859,1491]}},"y":{"field":"e","type":"quantitative","scale":{"domain":[0,1],"range":[305,78]}}}},
{"data":{"name":"pg"},"mark":{"type":"line","interpolate":"monotone","color":"#c8c8c8","strokeWidth":4},"encoding":{"x":{"field":"k","type":"quantitative","scale":{"domain":[-1,1],"range":[543,911]}},"y":{"field":"e","type":"quantitative","scale":{"domain":[0,1],"range":[648,420]}}}},
{"data":{"name":"pg"},"mark":{"type":"line","interpolate":"monotone","color":"#c8c8c8","strokeWidth":4},"encoding":{"x":{"field":"k","type":"quantitative","scale":{"domain":[-1,1],"range":[911,543]}},"y":{"field":"e","type":"quantitative","scale":{"domain":[0,1],"range":[648,420]}}}},
{"data":{"name":"pg"},"mark":{"type":"line","interpolate":"monotone","color":"#c8c8c8","strokeWidth":4},"encoding":{"x":{"field":"k","type":"quantitative","scale":{"domain":[-1,1],"range":[1491,1859]}},"y":{"field":"e","type":"quantitative","scale":{"domain":[0,1],"range":[648,420]}}}},
{"data":{"name":"pg"},"mark":{"type":"line","interpolate":"monotone","color":"#c8c8c8","strokeWidth":4},"encoding":{"x":{"field":"k","type":"quantitative","scale":{"domain":[-1,1],"range":[1859,1491]}},"y":{"field":"e","type":"quantitative","scale":{"domain":[0,1],"range":[648,420]}}}},

{"data":{"name":"ch"},"transform":[{"filter":"datum.l=='b'"}],"mark":{"type":"line","color":"#1c1c96","strokeWidth":2},"encoding":{"x":{"field":"k","type":"quantitative","scale":{"domain":[-1,1],"range":[42,270]}},"y":{"field":"e","type":"quantitative","scale":{"domain":[0,1],"range":[305,78]}}}},
{"data":{"name":"ch"},"transform":[{"filter":"datum.l=='b'"}],"mark":{"type":"line","color":"#1c1c96","strokeWidth":2},"encoding":{"x":{"field":"k","type":"quantitative","scale":{"domain":[-1,1],"range":[510,282]}},"y":{"field":"e","type":"quantitative","scale":{"domain":[0,1],"range":[305,78]}}}},
{"data":{"name":"ch"},"transform":[{"filter":"datum.l=='b'"}],"mark":{"type":"line","color":"#1c1c96","strokeWidth":2},"encoding":{"x":{"field":"k","type":"quantitative","scale":{"domain":[-1,1],"range":[990,1218]}},"y":{"field":"e","type":"quantitative","scale":{"domain":[0,1],"range":[305,78]}}}},
{"data":{"name":"ch"},"transform":[{"filter":"datum.l=='b'"}],"mark":{"type":"line","color":"#1c1c96","strokeWidth":2},"encoding":{"x":{"field":"k","type":"quantitative","scale":{"domain":[-1,1],"range":[1458,1230]}},"y":{"field":"e","type":"quantitative","scale":{"domain":[0,1],"range":[305,78]}}}},
{"data":{"name":"ch"},"transform":[{"filter":"datum.l=='b'"}],"mark":{"type":"line","color":"#1c1c96","strokeWidth":2},"encoding":{"x":{"field":"k","type":"quantitative","scale":{"domain":[-1,1],"range":[42,270]}},"y":{"field":"e","type":"quantitative","scale":{"domain":[0,1],"range":[648,420]}}}},
{"data":{"name":"ch"},"transform":[{"filter":"datum.l=='b'"}],"mark":{"type":"line","color":"#1c1c96","strokeWidth":2},"encoding":{"x":{"field":"k","type":"quantitative","scale":{"domain":[-1,1],"range":[510,282]}},"y":{"field":"e","type":"quantitative","scale":{"domain":[0,1],"range":[648,420]}}}},
{"data":{"name":"ch"},"transform":[{"filter":"datum.l=='b'"}],"mark":{"type":"line","color":"#1c1c96","strokeWidth":2},"encoding":{"x":{"field":"k","type":"quantitative","scale":{"domain":[-1,1],"range":[990,1218]}},"y":{"field":"e","type":"quantitative","scale":{"domain":[0,1],"range":[648,420]}}}},
{"data":{"name":"ch"},"transform":[{"filter":"datum.l=='b'"}],"mark":{"type":"line","color":"#1c1c96","strokeWidth":2},"encoding":{"x":{"field":"k","type":"quantitative","scale":{"domain":[-1,1],"range":[1458,1230]}},"y":{"field":"e","type":"quantitative","scale":{"domain":[0,1],"range":[648,420]}}}},

{"data":{"name":"bI"},"mark":{"type":"line","interpolate":"monotone","strokeWidth":1.6},"encoding":{"x":{"field":"k","type":"quantitative","scale":{"domain":[-1,1],"range":[42,270]}},"y":{"field":"e","type":"quantitative","scale":{"domain":[0,1],"range":[305,78]}},"detail":[{"field":"b","type":"nominal"},{"field":"n","type":"nominal"}],"color":{"field":"n","type":"ordinal","scale":{"domain":[1,2,3,4,5,6,7,8,9,10,11,12,13,14,15,16,17],"range":["#2222ea","#2222ea","#2222ea","#2222ea","#2222ea","#2424ea","#2828ea","#3434ec","#4848ee","#5e5eef","#7676f1","#8e8ef3","#a6a6f6","#bcbcf8","#cfcffa","#e0e0fc","#ececfd"]}}}},
{"data":{"name":"bI"},"mark":{"type":"line","interpolate":"monotone","strokeWidth":1.6},"encoding":{"x":{"field":"k","type":"quantitative","scale":{"domain":[-1,1],"range":[270,42]}},"y":{"field":"e","type":"quantitative","scale":{"domain":[0,1],"range":[305,78]}},"detail":[{"field":"b","type":"nominal"},{"field":"n","type":"nominal"}],"color":{"field":"n","type":"ordinal","scale":{"domain":[1,2,3,4,5,6,7,8,9,10,11,12,13,14,15,16,17],"range":["#2222ea","#2222ea","#2222ea","#2222ea","#2222ea","#2424ea","#2828ea","#3434ec","#4848ee","#5e5eef","#7676f1","#8e8ef3","#a6a6f6","#bcbcf8","#cfcffa","#e0e0fc","#ececfd"]}}}},
{"data":{"name":"bI"},"mark":{"type":"line","interpolate":"monotone","strokeWidth":1.6},"encoding":{"x":{"field":"k","type":"quantitative","scale":{"domain":[-1,1],"range":[282,510]}},"y":{"field":"e","type":"quantitative","scale":{"domain":[0,1],"range":[305,78]}},"detail":[{"field":"b","type":"nominal"},{"field":"n","type":"nominal"}],"color":{"field":"n","type":"ordinal","scale":{"domain":[1,2,3,4,5,6,7,8,9,10,11,12,13,14,15,16,17],"range":["#2222ea","#2222ea","#2222ea","#2222ea","#2222ea","#2424ea","#2828ea","#3434ec","#4848ee","#5e5eef","#7676f1","#8e8ef3","#a6a6f6","#bcbcf8","#cfcffa","#e0e0fc","#ececfd"]}}}},
{"data":{"name":"bI"},"mark":{"type":"line","interpolate":"monotone","strokeWidth":1.6},"encoding":{"x":{"field":"k","type":"quantitative","scale":{"domain":[-1,1],"range":[510,282]}},"y":{"field":"e","type":"quantitative","scale":{"domain":[0,1],"range":[305,78]}},"detail":[{"field":"b","type":"nominal"},{"field":"n","type":"nominal"}],"color":{"field":"n","type":"ordinal","scale":{"domain":[1,2,3,4,5,6,7,8,9,10,11,12,13,14,15,16,17],"range":["#2222ea","#2222ea","#2222ea","#2222ea","#2222ea","#2424ea","#2828ea","#3434ec","#4848ee","#5e5eef","#7676f1","#8e8ef3","#a6a6f6","#bcbcf8","#cfcffa","#e0e0fc","#ececfd"]}}}},
{"data":{"name":"pI"},"mark":{"type":"line","interpolate":"monotone","strokeWidth":1.5},"encoding":{"x":{"field":"k","type":"quantitative","scale":{"domain":[-1,1],"range":[543,911]}},"y":{"field":"e","type":"quantitative","scale":{"domain":[0,1],"range":[305,78]}},"detail":{"field":"n","type":"nominal"},"color":{"field":"n","type":"ordinal","scale":{"domain":[1,2,3,4,5,6,7,8,9,10],"range":["#ff0000","#ff0000","#ff0808","#ff2e2e","#ff4c4c","#ff6a6a","#ff8686","#ffa2a2","#ffbcbc","#ffd2d2"]}}}},
{"data":{"name":"pI"},"mark":{"type":"line","interpolate":"monotone","strokeWidth":1.5},"encoding":{"x":{"field":"k","type":"quantitative","scale":{"domain":[-1,1],"range":[911,543]}},"y":{"field":"e","type":"quantitative","scale":{"domain":[0,1],"range":[305,78]}},"detail":{"field":"n","type":"nominal"},"color":{"field":"n","type":"ordinal","scale":{"domain":[1,2,3,4,5,6,7,8,9,10],"range":["#ff0000","#ff0000","#ff0808","#ff2e2e","#ff4c4c","#ff6a6a","#ff8686","#ffa2a2","#ffbcbc","#ffd2d2"]}}}},

{"data":{"name":"bII"},"mark":{"type":"line","interpolate":"monotone","strokeWidth":1.6,"color":"#2222ea"},"encoding":{"x":{"field":"k","type":"quantitative","scale":{"domain":[-1,1],"range":[990,1218]}},"y":{"field":"e","type":"quantitative","scale":{"domain":[0,1],"range":[305,78]}},"detail":[{"field":"b","type":"nominal"},{"field":"n","type":"nominal"}]}},
{"data":{"name":"bII"},"mark":{"type":"line","interpolate":"monotone","strokeWidth":1.6,"color":"#2222ea"},"encoding":{"x":{"field":"k","type":"quantitative","scale":{"domain":[-1,1],"range":[1218,990]}},"y":{"field":"e","type":"quantitative","scale":{"domain":[0,1],"range":[305,78]}},"detail":[{"field":"b","type":"nominal"},{"field":"n","type":"nominal"}]}},
{"data":{"name":"bII"},"mark":{"type":"line","interpolate":"monotone","strokeWidth":1.6,"color":"#2222ea"},"encoding":{"x":{"field":"k","type":"quantitative","scale":{"domain":[-1,1],"range":[1230,1458]}},"y":{"field":"e","type":"quantitative","scale":{"domain":[0,1],"range":[305,78]}},"detail":[{"field":"b","type":"nominal"},{"field":"n","type":"nominal"}]}},
{"data":{"name":"bII"},"mark":{"type":"line","interpolate":"monotone","strokeWidth":1.6,"color":"#2222ea"},"encoding":{"x":{"field":"k","type":"quantitative","scale":{"domain":[-1,1],"range":[1458,1230]}},"y":{"field":"e","type":"quantitative","scale":{"domain":[0,1],"range":[305,78]}},"detail":[{"field":"b","type":"nominal"},{"field":"n","type":"nominal"}]}},
{"data":{"name":"pII"},"mark":{"type":"line","interpolate":"monotone","strokeWidth":1.5},"encoding":{"x":{"field":"k","type":"quantitative","scale":{"domain":[-1,1],"range":[1491,1859]}},"y":{"field":"e","type":"quantitative","scale":{"domain":[0,1],"range":[305,78]}},"detail":{"field":"n","type":"nominal"},"color":{"field":"n","type":"ordinal","scale":{"domain":[1,2,3,4,5,6],"range":["#ff0000","#ff0000","#ff1212","#ff3a3a","#ff5a5a","#ff7c7c"]}}}},
{"data":{"name":"pII"},"mark":{"type":"line","interpolate":"monotone","strokeWidth":1.5},"encoding":{"x":{"field":"k","type":"quantitative","scale":{"domain":[-1,1],"range":[1859,1491]}},"y":{"field":"e","type":"quantitative","scale":{"domain":[0,1],"range":[305,78]}},"detail":{"field":"n","type":"nominal"},"color":{"field":"n","type":"ordinal","scale":{"domain":[1,2,3,4,5,6],"range":["#ff0000","#ff0000","#ff1212","#ff3a3a","#ff5a5a","#ff7c7c"]}}}},

{"data":{"name":"bIII"},"mark":{"type":"line","interpolate":"monotone","strokeWidth":1.6,"color":"#2222ea"},"encoding":{"x":{"field":"k","type":"quantitative","scale":{"domain":[-1,1],"range":[42,270]}},"y":{"field":"e","type":"quantitative","scale":{"domain":[0,1],"range":[648,420]}},"detail":[{"field":"b","type":"nominal"},{"field":"n","type":"nominal"}]}},
{"data":{"name":"bIII"},"mark":{"type":"line","interpolate":"monotone","strokeWidth":1.6,"color":"#2222ea"},"encoding":{"x":{"field":"k","type":"quantitative","scale":{"domain":[-1,1],"range":[270,42]}},"y":{"field":"e","type":"quantitative","scale":{"domain":[0,1],"range":[648,420]}},"detail":[{"field":"b","type":"nominal"},{"field":"n","type":"nominal"}]}},
{"data":{"name":"bIII"},"mark":{"type":"line","interpolate":"monotone","strokeWidth":1.6,"color":"#2222ea"},"encoding":{"x":{"field":"k","type":"quantitative","scale":{"domain":[-1,1],"range":[282,510]}},"y":{"field":"e","type":"quantitative","scale":{"domain":[0,1],"range":[648,420]}},"detail":[{"field":"b","type":"nominal"},{"field":"n","type":"nominal"}]}},
{"data":{"name":"bIII"},"mark":{"type":"line","interpolate":"monotone","strokeWidth":1.6,"color":"#2222ea"},"encoding":{"x":{"field":"k","type":"quantitative","scale":{"domain":[-1,1],"range":[510,282]}},"y":{"field":"e","type":"quantitative","scale":{"domain":[0,1],"range":[648,420]}},"detail":[{"field":"b","type":"nominal"},{"field":"n","type":"nominal"}]}},
{"data":{"name":"pIII"},"mark":{"type":"line","interpolate":"monotone","strokeWidth":1.5,"color":"#ff0a0a"},"encoding":{"x":{"field":"k","type":"quantitative","scale":{"domain":[-1,1],"range":[543,911]}},"y":{"field":"e","type":"quantitative","scale":{"domain":[0,1],"range":[648,420]}},"detail":{"field":"n","type":"nominal"}}},
{"data":{"name":"pIII"},"mark":{"type":"line","interpolate":"monotone","strokeWidth":1.5,"color":"#ff0a0a"},"encoding":{"x":{"field":"k","type":"quantitative","scale":{"domain":[-1,1],"range":[911,543]}},"y":{"field":"e","type":"quantitative","scale":{"domain":[0,1],"range":[648,420]}},"detail":{"field":"n","type":"nominal"}}},

{"data":{"name":"bIV"},"mark":{"type":"line","interpolate":"monotone","strokeWidth":1.6,"color":"#2222ea"},"encoding":{"x":{"field":"k","type":"quantitative","scale":{"domain":[-1,1],"range":[990,1218]}},"y":{"field":"e","type":"quantitative","scale":{"domain":[0,1],"range":[648,420]}},"detail":[{"field":"b","type":"nominal"},{"field":"n","type":"nominal"}]}},
{"data":{"name":"bIV"},"mark":{"type":"line","interpolate":"monotone","strokeWidth":1.6,"color":"#2222ea"},"encoding":{"x":{"field":"k","type":"quantitative","scale":{"domain":[-1,1],"range":[1218,990]}},"y":{"field":"e","type":"quantitative","scale":{"domain":[0,1],"range":[648,420]}},"detail":[{"field":"b","type":"nominal"},{"field":"n","type":"nominal"}]}},
{"data":{"name":"bIV"},"mark":{"type":"line","interpolate":"monotone","strokeWidth":1.6,"color":"#2222ea"},"encoding":{"x":{"field":"k","type":"quantitative","scale":{"domain":[-1,1],"range":[1230,1458]}},"y":{"field":"e","type":"quantitative","scale":{"domain":[0,1],"range":[648,420]}},"detail":[{"field":"b","type":"nominal"},{"field":"n","type":"nominal"}]}},
{"data":{"name":"bIV"},"mark":{"type":"line","interpolate":"monotone","strokeWidth":1.6,"color":"#2222ea"},"encoding":{"x":{"field":"k","type":"quantitative","scale":{"domain":[-1,1],"range":[1458,1230]}},"y":{"field":"e","type":"quantitative","scale":{"domain":[0,1],"range":[648,420]}},"detail":[{"field":"b","type":"nominal"},{"field":"n","type":"nominal"}]}},
{"data":{"name":"pIV"},"mark":{"type":"line","interpolate":"monotone","strokeWidth":1.5,"color":"#ff0a0a"},"encoding":{"x":{"field":"k","type":"quantitative","scale":{"domain":[-1,1],"range":[1491,1859]}},"y":{"field":"e","type":"quantitative","scale":{"domain":[0,1],"range":[648,420]}},"detail":{"field":"n","type":"nominal"}}},
{"data":{"name":"pIV"},"mark":{"type":"line","interpolate":"monotone","strokeWidth":1.5,"color":"#ff0a0a"},"encoding":{"x":{"field":"k","type":"quantitative","scale":{"domain":[-1,1],"range":[1859,1491]}},"y":{"field":"e","type":"quantitative","scale":{"domain":[0,1],"range":[648,420]}},"detail":{"field":"n","type":"nominal"}}},

{"data":{"name":"ef"},"mark":{"type":"rule","color":"#4b1c5e","strokeWidth":1.6},"encoding":{"x":{"field":"x","type":"quantitative","scale":{"domain":[0,1881],"range":[0,1881],"nice":false,"zero":false}},"x2":{"field":"x2"},"y":{"field":"y","type":"quantitative","scale":{"domain":[0,715],"range":[0,715],"nice":false,"zero":false}},"strokeDash":{"field":"r","type":"nominal","scale":{"domain":["t","b"],"range":[[5,3],[2.5,2]]}}}},
{"data":{"name":"sh"},"mark":{"type":"rule","color":"black","strokeWidth":2.2},"encoding":{"x":{"field":"x","type":"quantitative","scale":{"domain":[0,1881],"range":[0,1881],"nice":false,"zero":false}},"x2":{"field":"x2"},"y":{"field":"y","type":"quantitative","scale":{"domain":[0,715],"range":[0,715],"nice":false,"zero":false}},"y2":{"field":"y2"}}},
{"data":{"name":"hd"},"mark":{"type":"point","filled":true,"color":"black","opacity":1,"size":144,"strokeWidth":0},"encoding":{"x":{"field":"x","type":"quantitative","scale":{"domain":[0,1881],"range":[0,1881],"nice":false,"zero":false}},"y":{"field":"y","type":"quantitative","scale":{"domain":[0,715],"range":[0,715],"nice":false,"zero":false}},"shape":{"field":"d","type":"nominal","scale":{"domain":["l","r","u","d"],"range":["M-1,0L1,-0.9L1,0.9Z","M1,0L-1,-0.9L-1,0.9Z","M0,-1L-0.9,1L0.9,1Z","M0,1L-0.9,-1L0.9,-1Z"]}}}},
{"data":{"name":"tx"},"transform":[{"filter":"datum.g=='c'"}],"mark":{"type":"text","font":"Liberation Sans","fontSize":38,"align":"left","baseline":"alphabetic","color":"black"},"encoding":{"x":{"field":"x","type":"quantitative","scale":{"domain":[0,1881],"range":[0,1881],"nice":false,"zero":false}},"y":{"field":"y","type":"quantitative","scale":{"domain":[0,715],"range":[0,715],"nice":false,"zero":false}},"text":{"field":"t"}}},
{"data":{"name":"tx"},"transform":[{"filter":"datum.g=='num'"}],"mark":{"type":"text","font":"Liberation Serif","fontSize":44,"align":"left","baseline":"alphabetic","color":"black"},"encoding":{"x":{"field":"x","type":"quantitative","scale":{"domain":[0,1881],"range":[0,1881],"nice":false,"zero":false}},"y":{"field":"y","type":"quantitative","scale":{"domain":[0,715],"range":[0,715],"nice":false,"zero":false}},"text":{"field":"t"}}},
{"data":{"name":"tx"},"transform":[{"filter":"datum.g=='lr'"}],"mark":{"type":"text","font":"Liberation Sans","fontSize":38,"align":"center","baseline":"alphabetic","color":"#0000ff"},"encoding":{"x":{"field":"x","type":"quantitative","scale":{"domain":[0,1881],"range":[0,1881],"nice":false,"zero":false}},"y":{"field":"y","type":"quantitative","scale":{"domain":[0,715],"range":[0,715],"nice":false,"zero":false}},"text":{"field":"t"}}},
{"data":{"name":"tx"},"transform":[{"filter":"datum.g=='K'"}],"mark":{"type":"text","font":"Liberation Sans Narrow, DejaVu Sans Condensed, Liberation Sans","fontSize":35,"align":"right","baseline":"alphabetic","color":"black"},"encoding":{"x":{"field":"x","type":"quantitative","scale":{"domain":[0,1881],"range":[0,1881],"nice":false,"zero":false}},"y":{"field":"y","type":"quantitative","scale":{"domain":[0,715],"range":[0,715],"nice":false,"zero":false}},"text":{"field":"t"}}},
{"data":{"name":"tx"},"transform":[{"filter":"datum.g=='z'"}],"mark":{"type":"text","font":"Liberation Sans Narrow, DejaVu Sans Condensed, Liberation Sans","fontSize":28,"align":"left","baseline":"alphabetic","color":"black"},"encoding":{"x":{"field":"x","type":"quantitative","scale":{"domain":[0,1881],"range":[0,1881],"nice":false,"zero":false}},"y":{"field":"y","type":"quantitative","scale":{"domain":[0,715],"range":[0,715],"nice":false,"zero":false}},"text":{"field":"t"}}},
{"data":{"name":"tx"},"transform":[{"filter":"datum.g=='eps'"}],"mark":{"type":"text","font":"Liberation Serif, DejaVu Serif","fontSize":42,"align":"center","baseline":"alphabetic","color":"black"},"encoding":{"x":{"field":"x","type":"quantitative","scale":{"domain":[0,1881],"range":[0,1881],"nice":false,"zero":false}},"y":{"field":"y","type":"quantitative","scale":{"domain":[0,715],"range":[0,715],"nice":false,"zero":false}},"text":{"field":"t"}}}
]
}
